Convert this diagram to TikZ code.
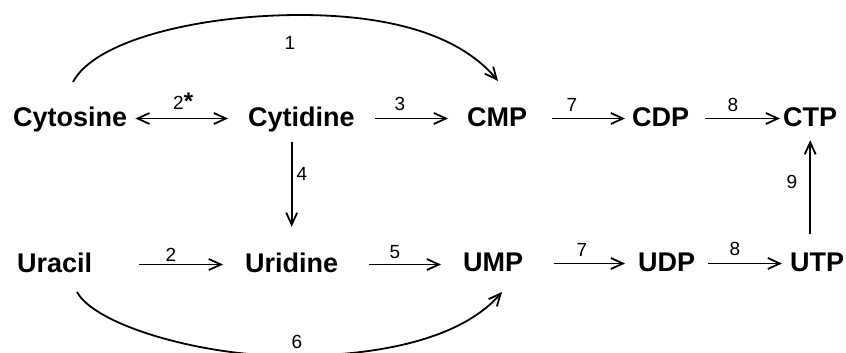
\documentclass[tikz,border=0pt]{standalone}
\usepackage{fontspec}
\setmainfont{Liberation Sans}
\usetikzlibrary{arrows.meta}
\begin{document}
\begin{tikzpicture}[x=1pt,y=-1pt,
  cmpd/.style={font=\fontsize{27}{27}\selectfont\bfseries, inner sep=0pt, anchor=base west, text height=20pt, text depth=5pt},
  lbl/.style={font=\fontsize{19}{19}\selectfont, inner sep=0pt},
  arr/.style={line width=1.8pt, -{Straight Barb[length=12pt,width=11pt]}},
  darr/.style={line width=1.8pt, {Straight Barb[length=12pt,width=11pt]}-{Straight Barb[length=12pt,width=11pt]}}
  ]
\useasboundingbox (0,0) rectangle (846,353);
% compounds, top row
\node[cmpd] (cytosine) at (13,126) {Cytosine};
\node[cmpd] (cytidine) at (248,126) {Cytidine};
\node[cmpd] (cmp) at (467,126) {CMP};
\node[cmpd] (cdp) at (632,126) {CDP};
\node[cmpd] (ctp) at (783,126) {CTP};
% bottom row
\node[cmpd] (uracil) at (17,272) {Uracil};
\node[cmpd] (uridine) at (245,272) {Uridine};
\node[cmpd] (ump) at (463,271) {UMP};
\node[cmpd] (udp) at (638,271) {UDP};
\node[cmpd] (utp) at (790,271) {UTP};
% horizontal arrows
\draw[darr, shorten <=8pt, shorten >=20pt] (cytosine.east) -- (cytidine.west);
\draw[arr, shorten <=20pt, shorten >=19pt] (cytidine.east) -- (cmp.west);
\draw[arr, shorten <=25pt, shorten >=7pt] (cmp.east) -- (cdp.west);
\draw[arr, shorten <=16pt, shorten >=3pt] (cdp.east) -- (ctp.west);
\draw[arr, shorten <=47pt, shorten >=22pt] (uracil.east) -- (uridine.west);
\draw[arr, shorten <=31pt, shorten >=22pt] (uridine.east) -- (uridine.east -| ump.west);
\draw[arr, shorten <=31pt, shorten >=13pt] (ump.east) -- (udp.west);
\draw[arr, shorten <=13pt, shorten >=8pt] (udp.east) -- (utp.west);
% vertical arrows
\draw[arr, shorten <=11pt, shorten >=25pt] (cytidine.south -| uridine.north) -- (uridine.north);
\draw[arr, shorten <=17pt, shorten >=9pt] (utp.north -| ctp.south) -- (ctp.south);
% curved arrows
\coordinate (c1s) at (73,82);
\coordinate (c1e) at (498,81);
\draw[arr] (c1s) .. controls (95,40) and (200,15) .. (300,15) .. controls (390,15) and (460,35) .. (c1e);
\coordinate (c6s) at (77,292);
\coordinate (c6e) at (502,292);
\draw[arr] (c6s) .. controls (95,325) and (200,356) .. (290,356) .. controls (390,356) and (465,335) .. (c6e);
% labels
\node[lbl] (l1) at (290,43) {1};
\node[lbl, anchor=base west] (l2s) at (173,110) {2{\fontsize{24}{24}\selectfont\bfseries *}};
\node[lbl] (l3) at (400,104) {3};
\node[lbl] (l7a) at (572,105) {7};
\node[lbl] (l8a) at (733,105) {8};
\node[lbl] (l4) at (302,174) {4};
\node[lbl] (l9) at (792,182) {9};
\node[lbl] (l2) at (171,255) {2};
\node[lbl] (l5) at (395,252) {5};
\node[lbl] (l7b) at (582,250) {7};
\node[lbl] (l8b) at (735,249) {8};
\node[lbl] (l6) at (297,342) {6};
\end{tikzpicture}
\end{document}
